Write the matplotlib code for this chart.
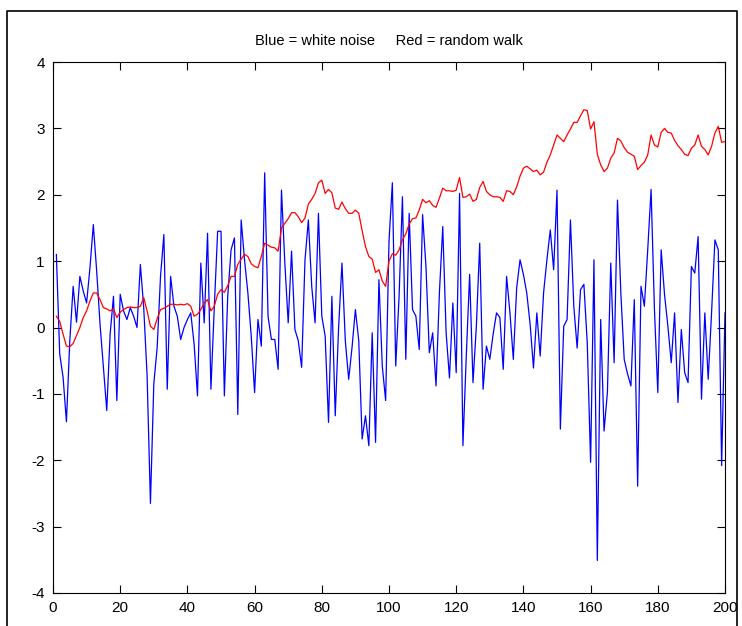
import numpy as np
import matplotlib.pyplot as plt
from matplotlib.lines import Line2D

plt.rcParams['font.family'] = ['Liberation Sans Narrow', 'Liberation Sans', 'DejaVu Sans']
plt.rcParams['axes.unicode_minus'] = False

# white noise (blue), samples 1..200
white_noise = [
    1.10, -0.40, -0.75, -1.42, -0.20, 0.62, 0.08, 0.77, 0.55, 0.37,
    0.90, 1.55, 0.85, 0.05, -0.60, -1.25, -0.10, 0.47, -1.10, 0.50,
    0.25, 0.12, 0.30, 0.17, 0.00, 0.95, 0.30, -0.72, -2.65, -0.85,
    -0.30, 0.77, 1.40, -0.93, 0.77, 0.32, 0.17, -0.18, 0.00, 0.12,
    0.22, -0.25, -1.03, 0.97, 0.07, 1.42, -0.93, 0.30, 1.45, 1.45,
    -1.03, 0.47, 1.17, 1.35, -1.31, 1.62, 1.02, 0.52, -0.13, -0.98,
    0.12, -0.28, 2.33, 0.17, -0.18, -0.18, -0.63, 2.07, 0.97, 0.07,
    1.15, -0.03, -0.20, -0.60, 1.02, 1.62, 0.62, 0.07, 1.72, 0.17,
    -0.13, -1.43, 0.47, -1.33, 0.00, 0.97, -0.20, -0.78, -0.30, 0.27,
    -0.20, -1.68, -1.33, -1.78, -0.08, -1.73, 0.72, -0.58, -1.10, 1.30,
    2.18, -0.58, 0.47, 1.97, -0.48, 1.72, 0.27, 0.17, -0.33, 1.70,
    0.92, -0.38, -0.08, -0.88, 0.52, 1.52, -0.08, -0.76, 0.37, -0.68,
    2.02, -1.78, -0.43, 0.80, -0.83, 0.02, 1.27, -0.93, -0.28, -0.48,
    -0.10, 0.22, 0.15, -0.63, 0.77, 0.22, -0.48, 0.60, 1.02, 0.80,
    0.52, 0.05, -0.61, 0.22, -0.43, 0.52, 1.02, 1.47, 0.87, 2.07,
    -1.53, 0.02, 0.12, 1.62, 0.32, -0.31, 0.57, 0.65, -0.23, -2.03,
    1.02, -3.51, 0.12, -1.56, -0.98, 0.97, -0.53, 1.92, 0.52, -0.48,
    -0.70, -0.88, 0.42, -2.39, 0.62, 0.32, 1.17, 2.08, 0.27, -0.98,
    1.17, 0.50, 0.02, -0.53, 0.22, -1.13, -0.03, -0.68, -0.83, 0.92,
    0.82, 1.37, -1.08, 0.22, -0.78, 0.22, 1.32, 1.17, -2.08, 0.22,
]

# random walk (red)
random_walk = [
    0.17, 0.09, -0.10, -0.28, -0.29, -0.24, -0.12, 0.00, 0.15, 0.25,
    0.40, 0.52, 0.52, 0.42, 0.30, 0.28, 0.25, 0.28, 0.15, 0.23,
    0.27, 0.30, 0.31, 0.30, 0.30, 0.32, 0.45, 0.25, 0.02, -0.03,
    0.13, 0.27, 0.29, 0.32, 0.35, 0.35, 0.34, 0.35, 0.34, 0.36,
    0.32, 0.17, 0.20, 0.27, 0.37, 0.42, 0.25, 0.32, 0.50, 0.57,
    0.53, 0.63, 0.77, 0.77, 0.95, 1.03, 1.10, 1.07, 0.96, 0.92,
    0.90, 1.07, 1.27, 1.24, 1.21, 1.20, 1.15, 1.50, 1.57, 1.64,
    1.73, 1.73, 1.67, 1.58, 1.65, 1.86, 1.93, 2.02, 2.18, 2.22,
    2.02, 2.08, 2.03, 1.80, 1.78, 1.89, 1.79, 1.72, 1.72, 1.77,
    1.72, 1.46, 1.22, 1.07, 1.03, 0.83, 0.87, 0.70, 0.62, 1.00,
    1.11, 1.09, 1.17, 1.32, 1.41, 1.56, 1.64, 1.65, 1.77, 1.93,
    1.88, 1.91, 1.84, 1.81, 1.95, 2.10, 2.06, 2.06, 2.05, 2.07,
    2.26, 1.96, 1.97, 2.01, 1.90, 1.93, 2.11, 2.20, 2.05, 2.00,
    1.97, 1.97, 1.96, 1.90, 2.06, 2.05, 2.00, 2.12, 2.28, 2.40,
    2.43, 2.39, 2.35, 2.37, 2.30, 2.34, 2.49, 2.60, 2.75, 2.90,
    2.85, 2.80, 2.90, 2.99, 3.09, 3.09, 3.19, 3.28, 3.27, 2.99,
    3.10, 2.61, 2.45, 2.35, 2.40, 2.55, 2.63, 2.85, 2.81, 2.71,
    2.64, 2.61, 2.58, 2.38, 2.44, 2.49, 2.60, 2.90, 2.75, 2.72,
    2.94, 3.00, 2.94, 2.93, 2.82, 2.74, 2.68, 2.61, 2.59, 2.70,
    2.75, 2.90, 2.73, 2.68, 2.60, 2.73, 2.93, 3.03, 2.79, 2.80,
]

x_ticks = [0, 20, 40, 60, 80, 100, 120, 140, 160, 180, 200]
y_ticks = [-4, -3, -2, -1, 0, 1, 2, 3, 4]

n = np.arange(1, len(white_noise) + 1)

fig = plt.figure(figsize=(7.42, 6.26), dpi=100)
ax = fig.add_axes([53 / 742, 1 - 593 / 626, 672 / 742, 531 / 626])

ax.plot(n, white_noise, color='#0000ff', lw=0.9)
ax.plot(n, random_walk, color='#ff0000', lw=0.9)

ax.set_xlim(0, 200)
ax.set_ylim(-4, 4)
ax.set_xticks(x_ticks)
ax.set_yticks(y_ticks)
ax.tick_params(direction='in', length=5.5, width=0.8, top=True, right=True,
               labelsize=11, pad=6)
for s in ax.spines.values():
    s.set_linewidth(0.8)

ax.set_title('Blue = white noise     Red = random walk', fontsize=10.5, pad=12)

# outer frame of the figure window
fig.add_artist(Line2D([7 / 742, 7 / 742, 737 / 742, 737 / 742],
                      [0, 1 - 11 / 626, 1 - 11 / 626, 0],
                      transform=fig.transFigure, color='black', lw=1.2))

fig.savefig('out.png', dpi=100)
